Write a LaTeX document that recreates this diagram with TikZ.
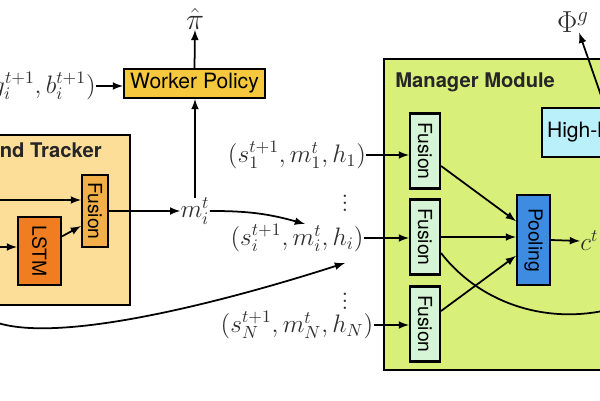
\documentclass[tikz,border=0pt]{standalone}
\usepackage{fontspec}
\newfontfamily\helv{TeX Gyre Heros}
\usetikzlibrary{arrows,calc,positioning}
\usepackage{xcolor}
\newcommand{\px}{0.02cm}
\colorlet{mathgray}{black!82}
\definecolor{workergold}{RGB}{246,200,62}
\definecolor{trackerbg}{RGB}{252,222,152}
\definecolor{trkfus}{RGB}{244,176,72}
\definecolor{lstmor}{RGB}{240,126,32}
\definecolor{managerbg}{RGB}{216,240,122}
\definecolor{mgrfus}{RGB}{214,244,214}
\definecolor{poolblue}{RGB}{62,140,226}
\definecolor{highcyan}{RGB}{186,240,250}
\tikzset{
    blocksty/.style={draw=black,line width=1.2pt,rectangle,inner sep=0pt},
    modsty/.style={blocksty,fill=#1},
    titlesty/.style={font=\helv\bfseries\fontsize{11.5}{13}\selectfont,text=black!85,inner sep=0pt},
    fussty/.style={blocksty,fill=#1,minimum width=30*\px,minimum height=75*\px,font=\helv\fontsize{11}{12}\selectfont},
    mathsty/.style={text=mathgray,inner sep=0pt,font=\fontsize{14}{16}\selectfont},
    linksty/.style={->,line width=1pt},
}
\newcommand{\rot}[1]{\rotatebox{-90}{#1}}

\begin{document}
\begin{tikzpicture}[>=latex,x=\px,y=-\px]
\useasboundingbox (0,0) rectangle (600,400);
\clip (0,0) rectangle (600,400);
% modules
\node[modsty=trackerbg,minimum width=170*\px,minimum height=170*\px] (trk) at (45,220) {};
\node[titlesty,anchor=east] (trktitle) at (102,150) {Mind Tracker};
\node[modsty=managerbg,line width=1.4pt,minimum width=320*\px,minimum height=311*\px] (mgr) at (544,214.5) {};
\node[titlesty,anchor=west] (mgrtitle) at (395,82) {Manager Module};
% tracker
\node[fussty=trkfus,minimum width=26*\px,minimum height=72*\px] (tfus) at (95,211) {\rot{Fusion}};
\node[fussty=lstmor,minimum width=43*\px,minimum height=68*\px] (lstm) at (39.5,251) {\rot{LSTM}};
% worker
\node[modsty=workergold,minimum width=141*\px,minimum height=29*\px,font=\helv\fontsize{12}{14}\selectfont] (wp) at (194.5,83.5) {Worker Policy};
\node[mathsty,font=\fontsize{17}{19}\selectfont] (pihat) at (195,19) {$\hat{\pi}$};
\node[mathsty,anchor=east] (winput) at (96,86) {$(s_i^{t+1}, g_i^{t+1}, b_i^{t+1})$};
\node[mathsty] (mit) at (195,211) {$m_i^t$};
% manager inputs
\node[mathsty] (in1) at (297,155) {$(s_1^{t+1}, m_1^t, h_1)$};
\node[mathsty] (in2) at (297,238) {$(s_i^{t+1}, m_i^t, h_i)$};
\node[mathsty] (in3) at (297,325) {$(s_N^{t+1}, m_N^t, h_N)$};
\node[mathsty] (dots1) at (345,198) {$\vdots$};
\node[mathsty] (dots2) at (345,296) {$\vdots$};
% manager
\node[fussty=mgrfus] (mf1) at (425,151) {\rot{Fusion}};
\node[fussty=mgrfus] (mf2) at (425,237) {\rot{Fusion}};
\node[fussty=mgrfus] (mf3) at (425,324) {\rot{Fusion}};
\node[fussty=poolblue,minimum width=33*\px,minimum height=90*\px] (pool) at (533.5,240) {\rot{Pooling}};
\node[modsty=highcyan,anchor=west,minimum width=140*\px,minimum height=49*\px,inner xsep=5*\px,align=left,font=\helv\fontsize{12}{14}\selectfont] (high) at (541,132.5) {High-level Policy\hspace{2.5em}};
\node[mathsty,anchor=west] (ct) at (580,241) {$c^t$};
\node[mathsty,font=\fontsize{17}{19}\selectfont] (phig) at (573,22) {$\Phi^g$};
\coordinate (tin1) at (-5,200);
\coordinate (tin2) at (-5,247);
\coordinate (lp) at (-5,322);
\coordinate (in2m) at (305,224);
\coordinate (in2h) at (345,263);
\coordinate (hin) at (660,290);
% connectors
\draw[linksty] (wp.north) -- (pihat.south);
\draw[linksty] (winput.east) -- (winput.east -| wp.west);
\draw[linksty] (mit.north) -- (mit.north |- wp.south);
\draw[linksty] (tin1) -- (tin1 -| tfus.west);
\draw[linksty] (tin2) -- (tin2 -| lstm.west);
\draw[linksty] (lstm.33) -- (tfus.227);
\draw[linksty] (tfus.east) -- (mit.west);
\draw[linksty] (mit.east) to[bend left=8] (in2m);
\draw[linksty] (lp) .. controls (60,345) and (230,300) .. (in2h);
\draw[linksty] (in1.east) -- (in1.east -| mf1.west);
\draw[linksty] (in2.east) -- (in2.east -| mf2.west);
\draw[linksty] (in3.east) -- (in3.east -| mf3.west);
\draw[linksty] (mf1.-43) -- (pool.133);
\draw[linksty] (mf2.east) -- (mf2.east -| pool.west);
\draw[linksty] (mf3.39) -- (pool.222);
\draw[linksty] (mf2.-45) .. controls (485,310) and (570,335) .. (hin);
\draw[linksty] (pool.east) -- (ct.west);
\draw[linksty] ($(high.north west)+(64,0)$) -- (phig.-60);
\end{tikzpicture}
\end{document}
